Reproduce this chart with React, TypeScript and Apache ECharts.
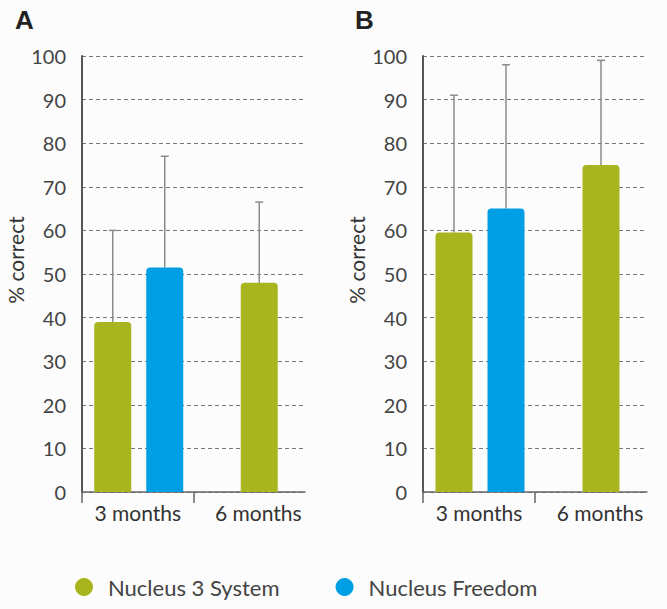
import React, { useEffect, useRef } from "react";
import * as echarts from "echarts";

const categories = ["3 months", "6 months"];
const seriesNames = ["Nucleus 3 System", "Nucleus Freedom"];

const panelA_nucleus3 = [39, 48];
const panelA_nucleus3Err = [60, 66.5];
const panelA_freedom = [51.5, null];
const panelA_freedomErr = [77, null];

const panelB_nucleus3 = [59.5, 75];
const panelB_nucleus3Err = [91, 99];
const panelB_freedom = [65, null];
const panelB_freedomErr = [98, null];

const yMin = 0;
const yMax = 100;
const yInterval = 10;

const GREEN = "#a9b51f";
const BLUE = "#009ee2";
const ERR = "#8c8c8c";
const FONT = "Lato, 'Open Sans', sans-serif";

// layout offsets (px) of each bar from its category centre
const N3_OFFSET = [-25, 10];
const FREE_OFFSET = [27, 0];
const BAR_W = 37;

function toData(vals: (number | null)[], errs: (number | null)[]) {
  const out: any[] = [];
  vals.forEach((v, i) => {
    if (v != null) out.push([i, v, errs[i]]);
  });
  return out;
}

function makeRender(color: string, offsets: number[]) {
  return (params: any, api: any) => {
    const idx = api.value(0);
    const v = api.value(1);
    const e = api.value(2);
    const top = api.coord([idx, v]);
    const base = api.coord([idx, 0]);
    const errP = api.coord([idx, e]);
    const cx = top[0] + offsets[idx];
    const es = { stroke: ERR, lineWidth: 1.5 };
    return {
      type: "group",
      children: [
        { type: "line", shape: { x1: cx, y1: top[1], x2: cx, y2: errP[1] }, style: es },
        { type: "line", shape: { x1: cx - 4, y1: errP[1], x2: cx + 4, y2: errP[1] }, style: es },
        {
          type: "rect",
          shape: { x: cx - BAR_W / 2, y: top[1], width: BAR_W, height: base[1] - top[1], r: [4, 4, 0, 0] },
          style: { fill: color },
        },
      ],
    };
  };
}

function xAxes(gridIndex: number) {
  return [
    {
      gridIndex,
      type: "category",
      data: categories,
      boundaryGap: true,
      axisLine: { lineStyle: { color: "#666", width: 1.5 } },
      axisTick: { show: false },
      axisLabel: {
        margin: 10,
        formatter: (v: string, i: number) => (i === 1 ? `{s|${v}}` : `{n|${v}}`),
        rich: {
          n: { fontSize: 21, fontFamily: FONT, color: "#333" },
          s: { fontSize: 21, fontFamily: FONT, color: "#333", padding: [0, 0, 0, 18] },
        },
      },
    },
    {
      gridIndex,
      type: "value",
      min: 0,
      max: 2,
      position: "bottom",
      axisLine: { show: false },
      axisLabel: { show: false },
      splitLine: { show: false },
      axisTick: { show: true, length: 11, customValues: [0, 1], lineStyle: { color: "#666", width: 1.5 } },
    },
  ];
}

function yAxis(gridIndex: number) {
  return {
    gridIndex,
    type: "value",
    min: yMin,
    max: yMax,
    interval: yInterval,
    name: "% correct",
    nameLocation: "middle",
    nameGap: 56,
    nameTextStyle: { fontSize: 21, fontFamily: FONT, color: "#333", padding: [0, 0, 0, 28] },
    axisLine: { show: true, lineStyle: { color: "#555", width: 2 } },
    axisTick: { show: false },
    axisLabel: { margin: 16, fontSize: 20, fontFamily: FONT, color: "#444" },
    splitLine: { show: true, lineStyle: { color: "#777", width: 1, type: [4, 3] } },
  };
}

export default function App() {
  const ref = useRef<HTMLDivElement>(null);
  useEffect(() => {
    document.body.style.margin = "0";
    const chart = echarts.init(ref.current!, null, { renderer: "svg" });
    const titleStyle = { fontSize: 26, fontWeight: "bold", fontFamily: "'Liberation Sans', Arial", color: "#222" };
    chart.setOption({
      animation: false,
      backgroundColor: "#fcfcfc",
      title: [
        { text: "A", left: 10, top: 2, textStyle: titleStyle },
        { text: "B", left: 350, top: 2, textStyle: titleStyle },
      ],
      legend: {
        data: seriesNames,
        left: 70,
        top: 571,
        icon: "circle",
        itemWidth: 18,
        itemHeight: 18,
        itemGap: 56,
        textStyle: { fontSize: 22, fontFamily: FONT, color: "#444", padding: [0, 0, 0, 10] },
      },
      grid: [
        { left: 82, right: 362, top: 56, bottom: 117 },
        { left: 423, right: 20, top: 56, bottom: 117 },
      ],
      xAxis: [...xAxes(0), ...xAxes(1)],
      yAxis: [yAxis(0), yAxis(1)],
      series: [
        {
          name: seriesNames[0], type: "custom", xAxisIndex: 0, yAxisIndex: 0,
          itemStyle: { color: GREEN }, renderItem: makeRender(GREEN, N3_OFFSET),
          data: toData(panelA_nucleus3, panelA_nucleus3Err), encode: { x: 0, y: [1, 2] },
        },
        {
          name: seriesNames[1], type: "custom", xAxisIndex: 0, yAxisIndex: 0,
          itemStyle: { color: BLUE }, renderItem: makeRender(BLUE, FREE_OFFSET),
          data: toData(panelA_freedom, panelA_freedomErr), encode: { x: 0, y: [1, 2] },
        },
        {
          name: seriesNames[0], type: "custom", xAxisIndex: 2, yAxisIndex: 1,
          itemStyle: { color: GREEN }, renderItem: makeRender(GREEN, N3_OFFSET),
          data: toData(panelB_nucleus3, panelB_nucleus3Err), encode: { x: 0, y: [1, 2] },
        },
        {
          name: seriesNames[1], type: "custom", xAxisIndex: 2, yAxisIndex: 1,
          itemStyle: { color: BLUE }, renderItem: makeRender(BLUE, FREE_OFFSET),
          data: toData(panelB_freedom, panelB_freedomErr), encode: { x: 0, y: [1, 2] },
        },
      ],
    });
    return () => chart.dispose();
  }, []);
  return <div ref={ref} style={{ width: 667, height: 609 }} />;
}
